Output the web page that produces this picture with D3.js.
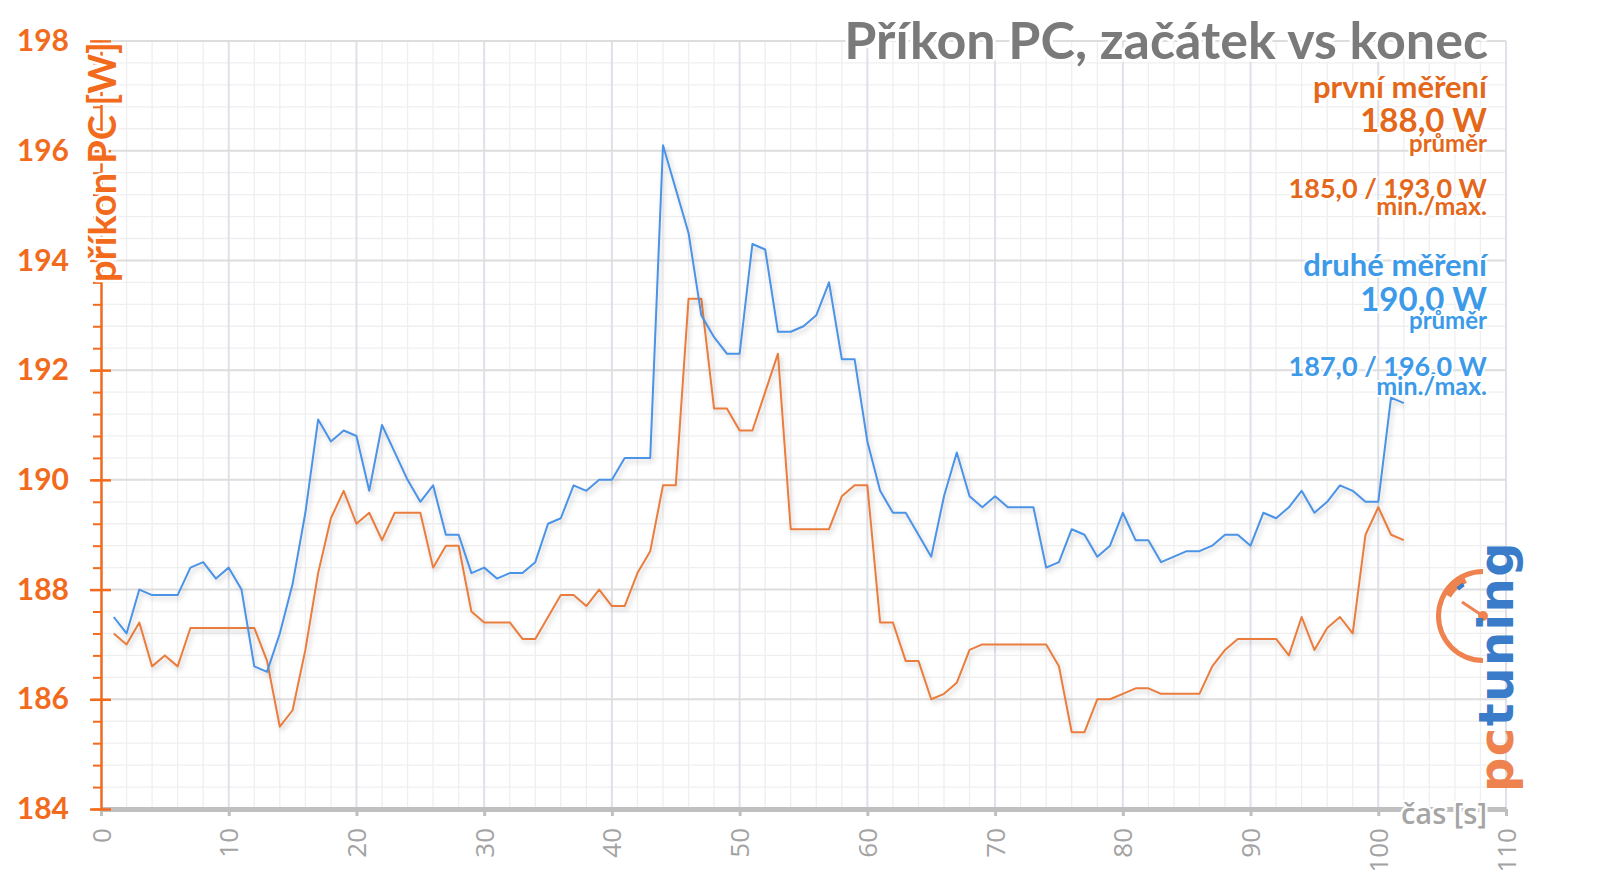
<!DOCTYPE html>
<html><head><meta charset="utf-8">
<script src="https://cdn.jsdelivr.net/npm/d3@7/dist/d3.min.js"></script>
<style>body{margin:0;background:#fff;overflow:hidden} svg{display:block}</style>
</head><body>
<svg id="chart" width="1600" height="881"></svg>
<script>
// ---- data (time in seconds, power in W) ----
const firstRun = [187.2,187.0,187.4,186.6,186.8,186.6,187.3,187.3,187.3,187.3,187.3,187.3,186.7,185.5,185.8,186.9,188.3,189.3,189.8,189.2,
189.4,188.9,189.4,189.4,189.4,188.4,188.8,188.8,187.6,187.4,187.4,187.4,187.1,187.1,187.5,187.9,187.9,187.7,188.0,187.7,
187.7,188.3,188.7,189.9,189.9,193.3,193.3,191.3,191.3,190.9,190.9,191.6,192.3,189.1,189.1,189.1,189.1,189.7,189.9,189.9,
187.4,187.4,186.7,186.7,186.0,186.1,186.3,186.9,187.0,187.0,187.0,187.0,187.0,187.0,186.6,185.4,185.4,186.0,186.0,186.1,
186.2,186.2,186.1,186.1,186.1,186.1,186.6,186.9,187.1,187.1,187.1,187.1,186.8,187.5,186.9,187.3,187.5,187.2,189.0,189.5,
189.0,188.9];
const secondRun = [187.5,187.2,188.0,187.9,187.9,187.9,188.4,188.5,188.2,188.4,188.0,186.6,186.5,187.2,188.1,189.4,191.1,190.7,190.9,190.8,
189.8,191.0,190.5,190.0,189.6,189.9,189.0,189.0,188.3,188.4,188.2,188.3,188.3,188.5,189.2,189.3,189.9,189.8,190.0,190.0,
190.4,190.4,190.4,196.1,195.3,194.5,193.0,192.6,192.3,192.3,194.3,194.2,192.7,192.7,192.8,193.0,193.6,192.2,192.2,190.7,
189.8,189.4,189.4,189.0,188.6,189.7,190.5,189.7,189.5,189.7,189.5,189.5,189.5,188.4,188.5,189.1,189.0,188.6,188.8,189.4,
188.9,188.9,188.5,188.6,188.7,188.7,188.8,189.0,189.0,188.8,189.4,189.3,189.5,189.8,189.4,189.6,189.9,189.8,189.6,189.6,
191.5,191.4];
const yTicks = [184,186,188,190,192,194,196,198];
const xTicks = [0,10,20,30,40,50,60,70,80,90,100,110];
const titleText = "Příkon PC, začátek vs konec";
const yTitle = "příkon PC [W]";
const xTitle = "čas [s]";
const legendFirst = ["první měření","188,0 W","průměr","185,0 / 193,0 W","min./max."];
const legendSecond = ["druhé měření","190,0 W","průměr","187,0 / 196,0 W","min./max."];

// ---- styles ----
const ORANGE_AXIS = "#f26b1d", ORANGE_TXT = "#e4671a", BLUE_TXT = "#3c9ae9";
const ORANGE_LINE = "#ea7d3e", BLUE_LINE = "#4b93e6";

const svg = d3.select("#chart");
const x = d3.scaleLinear().domain([0,110]).range([101,1506]);
const y = d3.scaleLinear().domain([184,198]).range([809,41]);

const defs = svg.append("defs");
const f = defs.append("filter").attr("id","sh").attr("x","-5%").attr("y","-5%").attr("width","110%").attr("height","115%");
f.append("feDropShadow").attr("dx",2).attr("dy",3).attr("stdDeviation",2.5).attr("flood-color","#000").attr("flood-opacity",0.2);

// ---- grid ----
const grid = svg.append("g");
const minorX = d3.range(0,111,2).filter(v=>v%10!==0);
const minorY = d3.range(0,36).map(i=>184+i*0.4).filter(v=>Math.abs(v-Math.round(v))>0.01 || Math.round(v)%2!==0);
grid.selectAll(".mx").data(minorX).join("line")
  .attr("x1",d=>x(d)).attr("x2",d=>x(d)).attr("y1",y(198)).attr("y2",y(184))
  .attr("stroke","#efefef").attr("stroke-width",1.3);
grid.selectAll(".my").data(minorY).join("line")
  .attr("x1",x(0)).attr("x2",x(110)).attr("y1",d=>y(d)).attr("y2",d=>y(d))
  .attr("stroke","#efefef").attr("stroke-width",1.3);
grid.selectAll(".Mx").data(xTicks.slice(1)).join("line")
  .attr("x1",d=>x(d)).attr("x2",d=>x(d)).attr("y1",y(198)).attr("y2",y(184))
  .attr("stroke","#dfe0e8").attr("stroke-width",2);
grid.selectAll(".My").data(yTicks.slice(1)).join("line")
  .attr("x1",x(0)).attr("x2",x(110)).attr("y1",d=>y(d)).attr("y2",d=>y(d))
  .attr("stroke","#dddddd").attr("stroke-width",2);

// ---- x axis ----
const xAxis = svg.append("g").attr("transform",`translate(0,${y(184)})`)
  .call(d3.axisBottom(x).tickValues(xTicks).tickSize(7).tickSizeOuter(0));
xAxis.select(".domain").attr("stroke","#bfbfbf").attr("stroke-width",5);
xAxis.selectAll(".tick line").attr("stroke","#bfbfbf").attr("stroke-width",3);
xAxis.selectAll(".tick text")
  .attr("font-family","Open Sans").attr("font-size",26).attr("fill","#a3a3a3")
  .attr("text-anchor","end").attr("dy",0).attr("y",0)
  .attr("transform","translate(9,19) rotate(-90)");

// ---- y axis ----
const yMinor = d3.range(0,36).map(i=>184+i*0.4);
const yAxisMinor = svg.append("g").attr("transform",`translate(${x(0)},0)`)
  .call(d3.axisLeft(y).tickValues(yMinor).tickSize(8).tickFormat(""));
yAxisMinor.select(".domain").remove();
yAxisMinor.selectAll(".tick line").attr("stroke",ORANGE_AXIS).attr("stroke-width",2);
const yAxis = svg.append("g").attr("transform",`translate(${x(0)},0)`)
  .call(d3.axisLeft(y).tickValues(yTicks).tickSize(11).tickSizeOuter(0).tickPadding(21));
yAxis.select(".domain").attr("stroke",ORANGE_AXIS).attr("stroke-width",2.5);
yAxis.selectAll(".tick line").attr("stroke",ORANGE_AXIS).attr("stroke-width",2.5).attr("x2",-11).attr("x1",10);
yAxis.selectAll(".tick text").attr("font-family","Lato").attr("font-weight","bold")
  .attr("font-size",30).attr("fill",ORANGE_AXIS);

// ---- lines ----
const line = d3.line().x((d,i)=>x(i+1)).y(d=>y(d));
svg.append("path").datum(firstRun).attr("d",line).attr("fill","none")
  .attr("stroke",ORANGE_LINE).attr("stroke-width",2).attr("stroke-linejoin","round").attr("filter","url(#sh)");
svg.append("path").datum(secondRun).attr("d",line).attr("fill","none")
  .attr("stroke",BLUE_LINE).attr("stroke-width",2).attr("stroke-linejoin","round").attr("filter","url(#sh)");

// ---- logo ----
const logo = svg.append("g").attr("transform","translate(1483,616)");
logo.append("path").attr("d",d3.arc()({innerRadius:42,outerRadius:47,startAngle:-Math.PI,endAngle:0})).attr("fill","#ef8350");
logo.append("path").attr("d",d3.arc()({innerRadius:37,outerRadius:47,startAngle:-1.05,endAngle:-0.45})).attr("fill","#ef8350");
logo.append("path").attr("d",d3.arc()({innerRadius:35,outerRadius:39,startAngle:-0.75,endAngle:-0.55})).attr("fill","#3a7cc9");
logo.append("line").attr("x1",0).attr("y1",0).attr("x2",-21).attr("y2",-14).attr("stroke","#ef8350").attr("stroke-width",3);
logo.append("circle").attr("r",5).attr("fill","#ef8350");
const lt = svg.append("text").attr("transform","translate(1513,792) rotate(-90)")
  .attr("font-family","DejaVu Sans").attr("font-weight","bold").attr("font-size",48).attr("letter-spacing",1.5);
lt.append("tspan").attr("fill","#ef8350").text("pc");
lt.append("tspan").attr("fill","#3a7cc9").text("tuning");

// ---- texts ----
function halo(sel,w){ return sel.attr("stroke","#fff").attr("stroke-width",w).attr("paint-order","stroke").attr("stroke-linejoin","round"); }
halo(svg.append("text").attr("x",1488).attr("y",59).attr("text-anchor","end")
  .attr("font-family","Lato").attr("font-weight","bold").attr("font-size",52).attr("fill","#7a7a7a").text(titleText),6);

halo(svg.append("text").attr("transform","translate(116,42) rotate(-90)").attr("text-anchor","end")
  .attr("font-family","Lato").attr("font-weight","bold").attr("font-size",38).attr("fill",ORANGE_AXIS).text(yTitle),5);

halo(svg.append("text").attr("x",1487).attr("y",824).attr("text-anchor","end")
  .attr("font-family","Open Sans").attr("font-weight",600).attr("font-size",29).attr("fill","#a5a5a5").text(xTitle),5);

const legSizes = [31,33,24,27,25];
const legFirstY = [98,132,152,198,215];
const legSecondY = [276,311,329,376,395];
function legend(texts,ys,color){
  texts.forEach((t,i)=>{
    halo(svg.append("text").attr("x",1487).attr("y",ys[i]).attr("text-anchor","end")
      .attr("font-family","Lato").attr("font-weight","bold").attr("font-size",legSizes[i])
      .attr("fill",color).text(t),4);
  });
}
legend(legendFirst,legFirstY,ORANGE_TXT);
legend(legendSecond,legSecondY,BLUE_TXT);
</script>
</body></html>
